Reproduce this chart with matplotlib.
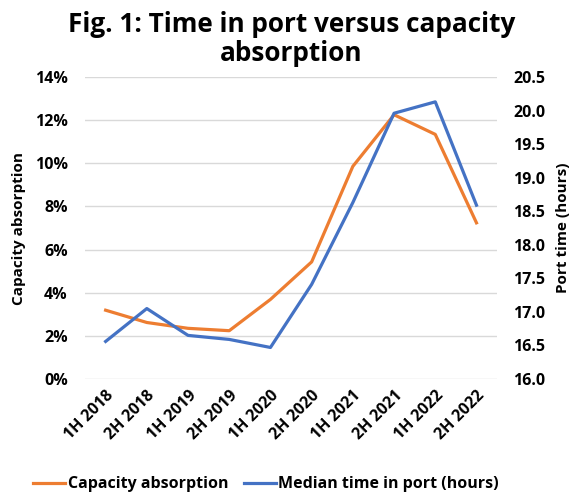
import matplotlib
matplotlib.use("Agg")
import matplotlib.pyplot as plt
from matplotlib.ticker import FuncFormatter

categories = ["1H 2018", "2H 2018", "1H 2019", "2H 2019", "1H 2020",
              "2H 2020", "1H 2021", "2H 2021", "1H 2022", "2H 2022"]
capacity_absorption = [3.19, 2.62, 2.35, 2.24, 3.69, 5.43, 9.86, 12.25, 11.34, 7.24]
median_port_time = [16.56, 17.05, 16.65, 16.59, 16.47, 17.41, 18.63, 19.96, 20.13, 18.59]
left_ticks = [0, 2, 4, 6, 8, 10, 12, 14]
right_ticks = [16.0, 16.5, 17.0, 17.5, 18.0, 18.5, 19.0, 19.5, 20.0, 20.5]

plt.rcParams['font.family'] = ['Open Sans', 'DejaVu Sans']
plt.rcParams['font.weight'] = 'bold'

orange = "#ED7D31"
blue = "#4472C4"

fig = plt.figure(figsize=(5.76, 4.93), dpi=100)
ax = fig.add_axes([0.1476, 0.2312, 0.7154, 0.6126])
ax2 = ax.twinx()

x = list(range(len(categories)))
l1, = ax.plot(x, capacity_absorption, color=orange, lw=2.3, label="Capacity absorption", zorder=3)
l2, = ax2.plot(x, median_port_time, color=blue, lw=2.3, label="Median time in port (hours)", zorder=3)

ax.set_xlim(-0.5, len(categories) - 0.5)
ax.set_ylim(0, 14)
ax.set_yticks(left_ticks)
ax.yaxis.set_major_formatter(FuncFormatter(lambda v, p: f"{v:.0f}%"))
ax2.set_ylim(16.0, 20.5)
ax2.set_yticks(right_ticks)
ax2.yaxis.set_major_formatter(FuncFormatter(lambda v, p: f"{v:.1f}"))

ax.grid(axis='y', color="#D9D9D9", lw=1)
ax.set_axisbelow(True)
for a in (ax, ax2):
    for s in a.spines.values():
        s.set_visible(False)
    a.tick_params(length=0, labelsize=11.5)

ax.tick_params(axis='y', pad=12.5)
ax2.tick_params(axis='y', pad=11.5)
ax.set_xticks(x)
ax.set_xticklabels(categories, rotation=45, ha='right', rotation_mode='anchor', fontsize=11.5)
ax.tick_params(axis='x', pad=6)

ax.set_ylabel("Capacity absorption", fontsize=11, fontweight='bold', labelpad=6)
ax2.set_ylabel("Port time (hours)", fontsize=11, fontweight='bold', labelpad=8)

fig.suptitle("Fig. 1: Time in port versus capacity\nabsorption", fontsize=18.8,
             fontweight='bold', x=0.506, y=0.978, va='top', linespacing=1.12)

fig.legend(handles=[l1, l2], loc='lower center', bbox_to_anchor=(0.462, -0.028), ncol=2,
           frameon=False, fontsize=11.5, handlelength=2.0, handletextpad=0.15, columnspacing=1.0)

fig.savefig("out.png", dpi=100)
